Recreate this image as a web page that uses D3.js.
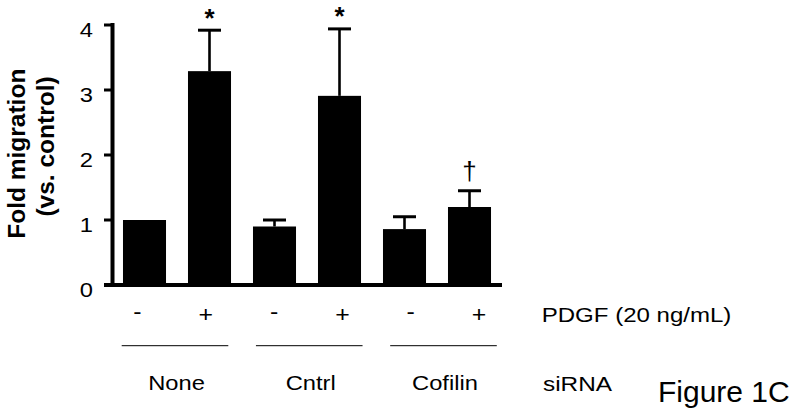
<!DOCTYPE html>
<html><head><meta charset="utf-8">
<script src="https://cdn.jsdelivr.net/npm/d3@7"></script>
<style>body{margin:0;background:#fff}svg{display:block}text{font-family:Arial,"Liberation Sans",sans-serif;fill:#000}</style>
</head><body>
<svg id="c" width="800" height="417"></svg>
<script>
const groups = ["None", "Cntrl", "Cofilin"];
const pdgfLabels = ["-", "+", "-", "+", "-", "+"];
const values = [1.00, 3.29, 0.90, 2.91, 0.86, 1.20];
const errors = [0, 0.63, 0.10, 1.03, 0.19, 0.25];
const marks = ["", "*", "", "*", "", "\u2020"];
const yTicks = [0, 1, 2, 3, 4];
const yTitle = ["Fold migration", "(vs. control)"];
const factorLabel = "PDGF (20 ng/mL)";
const groupFactor = "siRNA";
const figLabel = "Figure 1C";

const svg = d3.select("#c");
const SX = 1.13;
const y = d3.scaleLinear().domain([0, 4]).range([285, 25]);
const x = d3.scaleBand().domain(d3.range(values.length)).range([112, 502]).paddingInner(0.338).paddingOuter(0.169);
const xl = d3.scalePoint().domain(d3.range(pdgfLabels.length)).range([137.5, 479]);
const xg = d3.scalePoint().domain(groups).range([175, 443.5]);

// bars
svg.selectAll("rect.bar").data(values).join("rect")
  .attr("x", (d, i) => x(i)).attr("width", x.bandwidth())
  .attr("y", d => y(d)).attr("height", d => y(0) - y(d)).attr("fill", "#000");

// error bars
const eb = svg.selectAll("g.err").data(values.map((v, i) => ({v, e: errors[i], i})).filter(d => d.e > 0)).join("g");
eb.append("line").attr("x1", d => x(d.i) + x.bandwidth() / 2).attr("x2", d => x(d.i) + x.bandwidth() / 2)
  .attr("y1", d => y(d.v)).attr("y2", d => y(d.v + d.e)).attr("stroke", "#000").attr("stroke-width", 2.6);
eb.append("line").attr("x1", d => x(d.i) + x.bandwidth() / 2 - 11.5).attr("x2", d => x(d.i) + x.bandwidth() / 2 + 11.5)
  .attr("y1", d => y(d.v + d.e)).attr("y2", d => y(d.v + d.e)).attr("stroke", "#000").attr("stroke-width", 3);

// significance marks
values.forEach((v, i) => {
  if (!marks[i]) return;
  const top = y(v + errors[i]);
  const cx = x(i) + x.bandwidth() / 2;
  if (marks[i] === "*") {
    svg.append("text").attr("x", cx).attr("y", top - 3.6).attr("text-anchor", "middle")
      .attr("font-size", 26).attr("font-weight", "bold").text(marks[i]);
  } else {
    svg.append("text").attr("x", cx).attr("y", top - 11).attr("text-anchor", "middle")
      .attr("font-size", 26).text(marks[i]);
  }
});

// y axis
svg.append("line").attr("x1", 112.5).attr("x2", 112.5).attr("y1", y(4) - 2).attr("y2", y(0) + 2)
  .attr("stroke", "#000").attr("stroke-width", 4);
svg.selectAll("line.yt").data(yTicks).join("line")
  .attr("x1", 104).attr("x2", 112).attr("y1", d => y(d)).attr("y2", d => y(d))
  .attr("stroke", "#000").attr("stroke-width", 3);
svg.selectAll("text.yl").data(yTicks).join("text")
  .attr("transform", d => `translate(93,${y(d) + 11.5}) scale(${SX},1)`)
  .attr("text-anchor", "end").attr("font-size", 21).text(d => d);

// x axis line
svg.append("line").attr("x1", 104).attr("x2", 502).attr("y1", y(0)).attr("y2", y(0))
  .attr("stroke", "#000").attr("stroke-width", 4);

// y title
svg.append("text").attr("transform", "translate(25,153.7) rotate(-90)").attr("text-anchor", "middle")
  .attr("font-size", 24.5).attr("font-weight", "bold").text(yTitle[0]);
svg.append("text").attr("transform", "translate(54,146.5) rotate(-90)").attr("text-anchor", "middle")
  .attr("font-size", 24.5).attr("font-weight", "bold").text(yTitle[1]);

// PDGF row
svg.selectAll("text.pl").data(pdgfLabels).join("text")
  .attr("transform", (d, i) => `translate(${xl(i)},${d === "+" ? 322 : 319}) scale(${SX},1)`)
  .attr("text-anchor", "middle").attr("font-size", 22).text(d => d);
svg.append("text").attr("transform", `translate(541.7,321.7) scale(1.145,1)`).attr("font-size", 21).text(factorLabel);

// group lines and labels
svg.selectAll("line.gl").data(groups).join("line")
  .attr("x1", d => xg(d) - 53.3).attr("x2", d => xg(d) + 53.3).attr("y1", 345.7).attr("y2", 345.7)
  .attr("stroke", "#000").attr("stroke-width", 1);
svg.selectAll("text.gt").data(groups).join("text")
  .attr("transform", d => `translate(${xg(d) + 1.5},390) scale(${SX},1)`)
  .attr("text-anchor", "middle").attr("font-size", 21).text(d => d);
svg.append("text").attr("transform", `translate(543,390.7) scale(1.16,1)`).attr("font-size", 21).text(groupFactor);
svg.append("text").attr("x", 658).attr("y", 402).attr("font-size", 30).text(figLabel);
</script>
</body></html>
